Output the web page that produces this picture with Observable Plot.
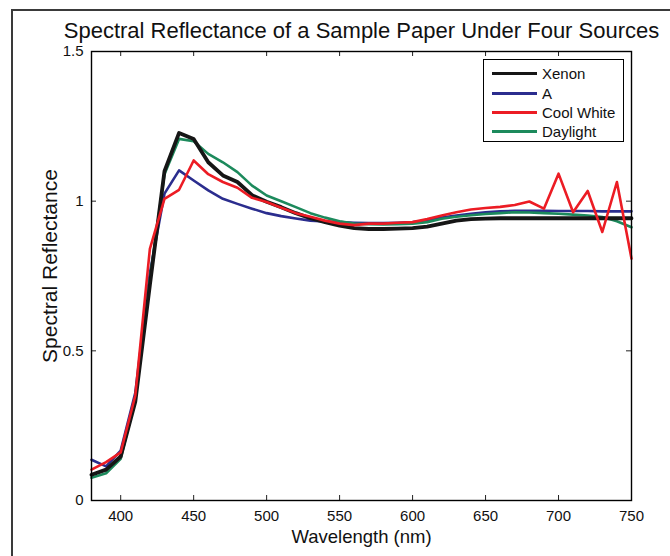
<!DOCTYPE html>
<html><head><meta charset="utf-8">
<script src="https://cdn.jsdelivr.net/npm/d3@7"></script>
<script src="https://cdn.jsdelivr.net/npm/@observablehq/plot@0.6"></script>
<style>
body{margin:0;background:#fff;font-family:"Liberation Sans",Arial,sans-serif;}
#wrap{position:relative;width:670px;height:556px;overflow:hidden;background:#fff;}
#outer{position:absolute;left:11px;top:9px;width:700px;height:600px;border:2px solid #3a3a3a;}
#chart{position:absolute;left:0;top:0;}
#legend{position:absolute;left:483px;top:59px;width:141px;height:83px;border:1px solid #000;background:#fff;padding-top:4px;box-sizing:border-box;}
.row{height:19.4px;display:flex;align-items:center;font-size:15px;color:#111;}
.sw{width:45px;margin-left:8px;margin-right:5px;}
</style>
</head><body>
<div id="wrap"><div id="outer"></div><div id="chart"></div><div id="legend"></div></div>
<script>
const wavelengths = [380,390,400,410,420,430,440,450,460,470,480,490,500,510,520,530,540,550,560,570,580,590,600,610,620,630,640,650,660,670,680,690,700,710,720,730,740,750];
const xenon = [0.086,0.103,0.147,0.33,0.72,1.10,1.228,1.208,1.13,1.086,1.064,1.02,0.998,0.98,0.96,0.943,0.93,0.918,0.91,0.907,0.907,0.908,0.91,0.915,0.925,0.935,0.94,0.942,0.943,0.943,0.943,0.943,0.943,0.943,0.943,0.943,0.943,0.943];
const illumA = [0.136,0.114,0.167,0.36,0.76,1.025,1.103,1.069,1.036,1.008,0.991,0.975,0.96,0.95,0.942,0.935,0.932,0.93,0.928,0.927,0.927,0.928,0.93,0.935,0.945,0.952,0.958,0.963,0.966,0.968,0.968,0.968,0.967,0.967,0.967,0.966,0.966,0.966];
const coolWhite = [0.103,0.128,0.161,0.35,0.841,1.008,1.038,1.136,1.09,1.064,1.045,1.011,0.997,0.978,0.96,0.948,0.935,0.925,0.92,0.925,0.925,0.928,0.93,0.94,0.952,0.963,0.972,0.977,0.981,0.987,0.999,0.975,1.092,0.963,1.034,0.897,1.064,0.808];
const daylight = [0.076,0.091,0.139,0.34,0.74,1.09,1.208,1.20,1.158,1.13,1.097,1.052,1.019,1.0,0.98,0.96,0.945,0.933,0.925,0.923,0.922,0.923,0.925,0.93,0.941,0.948,0.953,0.957,0.96,0.963,0.962,0.96,0.958,0.955,0.952,0.947,0.933,0.913];
const seriesNames = ["Xenon","A","Cool White","Daylight"];
const seriesColors = ["#161616","#2b2d8e","#ec1c24","#1c8a5c"];
const xTicks = [400,450,500,550,600,650,700,750];
const yTicks = [0,0.5,1,1.5];
const titleText = "Spectral Reflectance of a Sample Paper Under Four Sources";
const xLabel = "Wavelength (nm)";
const yLabel = "Spectral Reflectance";

const seriesValues = [xenon, illumA, coolWhite, daylight];
const rows = seriesValues.map((vals, k) => wavelengths.map((w, i) => ({w, v: vals[i], s: seriesNames[k]})));
const widths = [3.8, 2.6, 2.6, 2.6];
const drawOrder = [1, 3, 0, 2];

const W = 670, H = 556, mL = 91, mR = 39, mT = 51, mB = 56;
const innerW = W - mL - mR, innerH = H - mT - mB;

const chart = Plot.plot({
  width: W, height: H,
  marginLeft: mL, marginRight: mR, marginTop: mT, marginBottom: mB,
  style: {fontFamily: "'Liberation Sans', Arial, sans-serif", fontSize: "15px", background: "transparent", color: "#111"},
  x: {domain: [380, 750]},
  y: {domain: [0, 1.5]},
  marks: [
    ...drawOrder.map(k => Plot.line(rows[k], {x: "w", y: "v", stroke: seriesColors[k], strokeWidth: widths[k], strokeLinejoin: "round"})),
    Plot.ruleX(xTicks, {x: d => d, insetTop: innerH - 5, stroke: "#222"}),
    Plot.ruleX(xTicks, {x: d => d, insetBottom: innerH - 5, stroke: "#222"}),
    Plot.ruleY(yTicks, {y: d => d, insetRight: innerW - 5, stroke: "#222"}),
    Plot.ruleY(yTicks, {y: d => d, insetLeft: innerW - 5, stroke: "#222"}),
    Plot.frame({stroke: "#000", strokeWidth: 1.4}),
    Plot.axisX({ticks: xTicks, tickSize: 0, tickPadding: 10, label: null, fontSize: 15}),
    Plot.axisY({ticks: yTicks, tickSize: 0, tickPadding: 8, tickFormat: d => String(d), label: null, fontSize: 15}),
    Plot.text([titleText], {text: d => d, frameAnchor: "top", lineAnchor: "middle", textAnchor: "middle", dy: -21, fontSize: 22}),
    Plot.text([xLabel], {text: d => d, frameAnchor: "bottom", lineAnchor: "middle", textAnchor: "middle", dy: 37, fontSize: 18.5}),
    Plot.text([yLabel], {text: d => d, frameAnchor: "left", lineAnchor: "middle", textAnchor: "middle", dx: -41, dy: -10, rotate: -90, fontSize: 21})
  ]
});
document.getElementById("chart").appendChild(chart);

const legend = document.getElementById("legend");
seriesNames.forEach((name, k) => {
  const row = document.createElement("div");
  row.className = "row";
  const sw = document.createElement("div");
  sw.className = "sw";
  sw.style.height = k === 0 ? "3.5px" : "3px";
  sw.style.background = seriesColors[k];
  const t = document.createElement("span");
  t.textContent = name;
  row.appendChild(sw); row.appendChild(t);
  legend.appendChild(row);
});
</script>
</body></html>
